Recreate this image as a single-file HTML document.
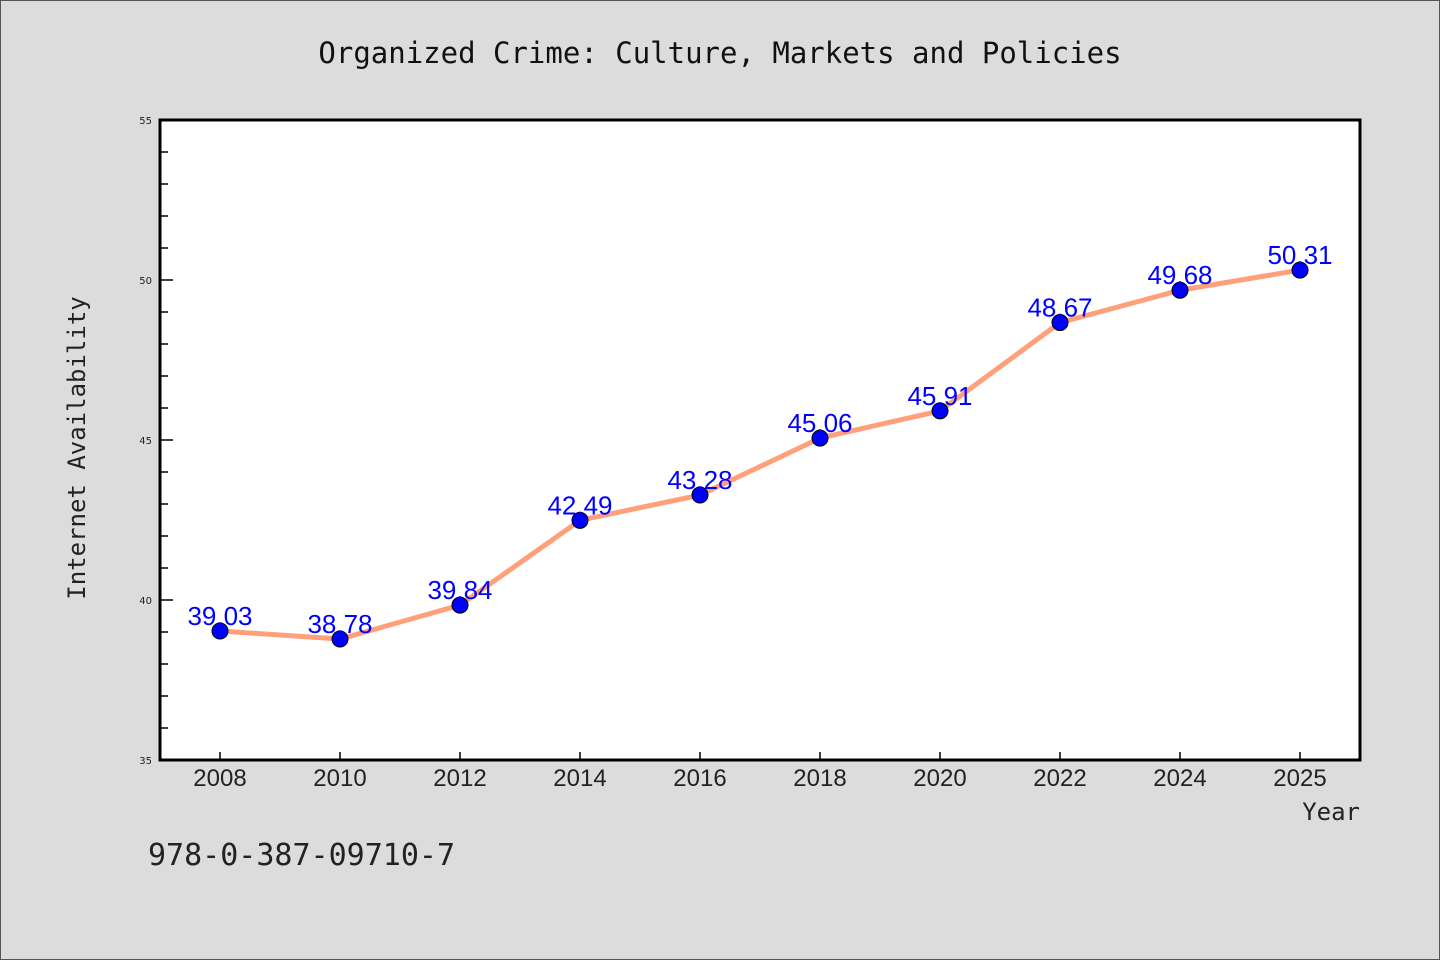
<!DOCTYPE html>
<html><head><meta charset="utf-8"><style>
body{margin:0;background:#dcdcdc;}
svg{display:block;}
</style></head><body>
<svg id="chart" width="1440" height="960" xmlns="http://www.w3.org/2000/svg">
<rect x="0.5" y="0.5" width="1439" height="959" fill="#dcdcdc" stroke="#555" stroke-width="1"/>
<text x="720" y="63" text-anchor="middle" font-family="'DejaVu Sans Mono','Liberation Mono',monospace" font-size="29" fill="#111">Organized Crime: Culture, Markets and Policies</text>
<rect x="160" y="120" width="1200" height="640" fill="#fff"/>
<g id="yaxis"></g>
<g id="xaxis"></g>
<g id="series"></g>
<rect x="160" y="120" width="1200" height="640" fill="none" stroke="#000" stroke-width="3"/>
<text transform="translate(85,448) rotate(-90)" text-anchor="middle" font-family="'DejaVu Sans Mono','Liberation Mono',monospace" font-size="24" fill="#222">Internet Availability</text>
<text x="1360" y="820" text-anchor="end" font-family="'DejaVu Sans Mono','Liberation Mono',monospace" font-size="24" fill="#222">Year</text>
<text x="148" y="865" font-family="'DejaVu Sans Mono','Liberation Mono',monospace" font-size="30" fill="#222">978-0-387-09710-7</text>
</svg>
<script>
const categories = ["2008","2010","2012","2014","2016","2018","2020","2022","2024","2025"];
const values = [39.03,38.78,39.84,42.49,43.28,45.06,45.91,48.67,49.68,50.31];
const valueLabels = ["39.03","38.78","39.84","42.49","43.28","45.06","45.91","48.67","49.68","50.31"];
const yTicks = [35,40,45,50,55];
const yMin = 35, yMax = 55;
const NS = "http://www.w3.org/2000/svg";
const L=160,R=1360,T=120,B=760;
function y(v){return B-(v-yMin)/(yMax-yMin)*(B-T);}
function x(i){const bw=(R-L)/categories.length;return L+bw*(i+0.5);}
function mk(tag,attrs,parent){const e=document.createElementNS(NS,tag);for(const k in attrs)e.setAttribute(k,attrs[k]);parent.appendChild(e);return e;}
const ya=document.getElementById('yaxis'),xa=document.getElementById('xaxis'),sg=document.getElementById('series');
for(let v=yMin;v<=yMax;v++){
  const major=yTicks.includes(v);
  const t=mk('line',{x1:L,x2:L+(major?13:8),y1:y(v),y2:y(v),stroke:'#000','stroke-width':1.5},ya);
  
  
}
yTicks.forEach(v=>{
  const t=mk('text',{x:L-8,y:y(v)+4,'text-anchor':'end','font-family':'DejaVu Sans, sans-serif','font-size':10,fill:'#222'},ya);
  t.textContent=v;
  
  
});
categories.forEach((c,i)=>{
  const tk=mk('line',{x1:x(i),x2:x(i),y1:B,y2:B-8,stroke:'#000','stroke-width':1.5},xa);
  
  
  const t=mk('text',{x:x(i),y:B+26,'text-anchor':'middle','font-family':'Liberation Sans, sans-serif','font-size':24,fill:'#222'},xa);
  t.textContent=c;
  
  
});
const pl=mk('polyline',{points:values.map((v,i)=>x(i)+','+y(v)).join(' '),fill:'none',stroke:'#ffa07a','stroke-width':5,'stroke-linejoin':'round'},sg);


values.forEach((v,i)=>{
  const c=mk('circle',{cx:x(i),cy:y(v),r:8,fill:'#0000ff',stroke:'#000','stroke-width':1},sg);
  
  
  const t=mk('text',{x:x(i),y:y(v)-6,'text-anchor':'middle','font-family':'Liberation Sans, sans-serif','font-size':26,fill:'#0000ff'},sg);
  t.textContent=valueLabels[i];
  
  
});
</script>
</body></html>
